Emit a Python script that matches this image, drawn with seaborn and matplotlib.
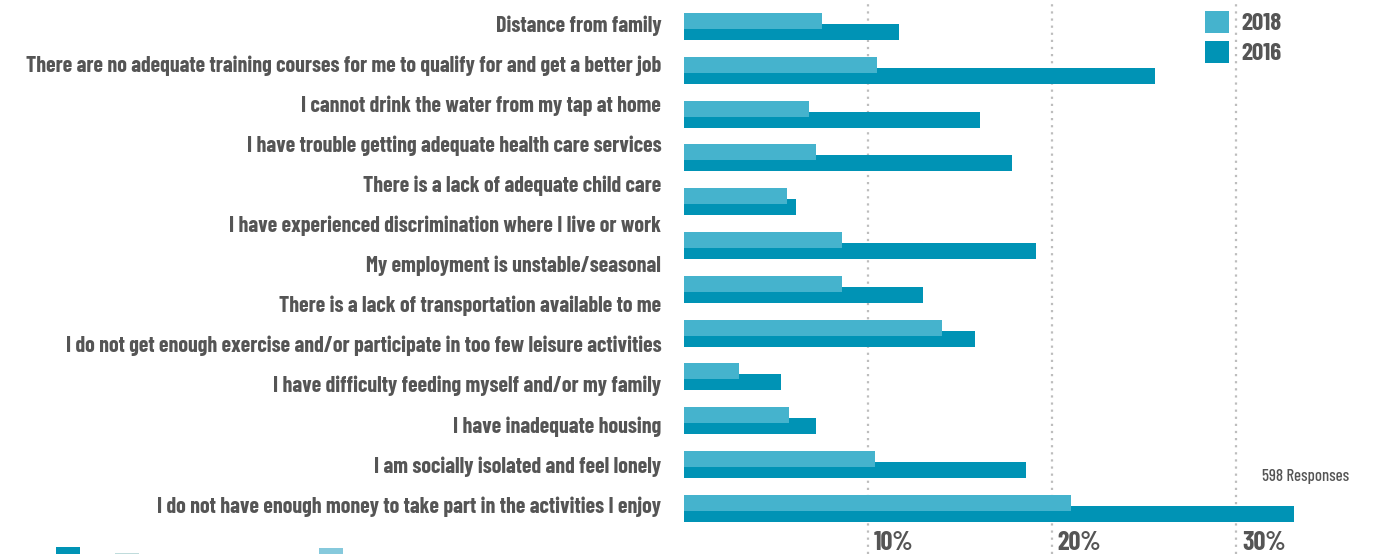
import numpy as np
import pandas as pd
import matplotlib
matplotlib.use("Agg")
import matplotlib.pyplot as plt
import matplotlib.transforms as mtransforms
from matplotlib.patches import Patch, Rectangle
import seaborn as sns

# Category labels listed down the left side
labels = [
    "Distance from family",
    "There are no adequate training courses for me to qualify for and get a better job",
    "I cannot drink the water from my tap at home",
    "I have trouble getting adequate health care services",
    "There is a lack of adequate child care",
    "I have experienced discrimination where I live or work",
    "My employment is unstable/seasonal",
    "There is a lack of transportation available to me",
    "I do not get enough exercise and/or participate in too few leisure activities",
    "I have difficulty feeding myself and/or my family",
    "I have inadequate housing",
    "I am socially isolated and feel lonely",
    "I do not have enough money to take part in the activities I enjoy",
]

# Share of respondents (%) per bar group
vals_2018 = [7.5, 10.5, 6.8, 7.2, 5.6, 8.6, 8.6, 14.0, 3.0, 5.7, 10.4, 21.0]
vals_2016 = [11.7, 25.6, 16.1, 17.8, 6.1, 19.1, 13.0, 15.8, 5.3, 7.2, 18.6, 33.1]

years = ["2018", "2016"]
x_ticks = [10, 20, 30]
note = "598 Responses"

C2018 = "#45b3cd"
C2016 = "#0093b5"
TXT = "#555555"
GRID = "#bdbdbd"
FAM = ["Barlow Condensed", "DejaVu Sans"]

sns.set_theme(style="white")
plt.rcParams["font.family"] = FAM

W, H = 1375, 554
fig = plt.figure(figsize=(W / 100, H / 100), dpi=100)
x0 = 683.5
ax = fig.add_axes([x0 / W, 0, 1 - x0 / W, 1])

rows = np.arange(len(vals_2016))
off = 0.126
bar_h = 0.365

df16 = pd.DataFrame({"pct": vals_2016, "pos": rows + off})
df18 = pd.DataFrame({"pct": vals_2018, "pos": rows - off})

sns.barplot(data=df16, x="pct", y="pos", orient="h", native_scale=True,
            width=bar_h, color=C2016, saturation=1, linewidth=0,
            errorbar=None, ax=ax)
sns.barplot(data=df18, x="pct", y="pos", orient="h", native_scale=True,
            width=bar_h, color=C2018, saturation=1, linewidth=0,
            errorbar=None, ax=ax)

px_per_unit = 18.43
ax.set_xlim(0, (W - x0) / px_per_unit)
row_px0, row_step = 26.5, 43.8
ax.set_ylim((H - row_px0) / row_step, -row_px0 / row_step)

for s in ax.spines.values():
    s.set_visible(False)
ax.set_xlabel("")
ax.set_ylabel("")

# dotted vertical gridlines
ax.set_xticks(x_ticks)
ax.xaxis.grid(True, color=GRID, linestyle=(0, (1, 2.2)), linewidth=1.6)
ax.yaxis.grid(False)
ax.set_axisbelow(True)
ax.tick_params(axis="x", labelbottom=False, length=0)

# category labels, evenly spread over the bar column
lab_px = np.linspace(23.5, 504.5, len(labels))
lab_pos = (lab_px - row_px0) / row_step
ax.set_yticks(lab_pos)
ax.set_yticklabels(labels, fontsize=15.8, fontweight="bold", color=TXT)
ax.tick_params(axis="y", length=0, pad=16)

# percentage labels at the foot of each gridline
blend = mtransforms.blended_transform_factory(ax.transData, ax.transAxes)
for t in x_ticks:
    ax.text(t + 0.3, 1 - 550 / H, f"{t}%", transform=blend, ha="left",
            va="baseline", fontsize=19, fontweight="bold", color=TXT)

ax.text((1262 - x0) / px_per_unit, 1 - 481 / H, note, transform=blend,
        ha="left", va="baseline", fontsize=12, fontweight=500, color=TXT)

handles = [Patch(facecolor=C2018, edgecolor="none", label=years[0]),
           Patch(facecolor=C2016, edgecolor="none", label=years[1])]
leg = ax.legend(handles=handles, loc="upper left",
                bbox_to_anchor=(1205 / W, 1 - 11 / H), bbox_transform=fig.transFigure,
                frameon=False, borderpad=0, borderaxespad=0,
                prop={"family": FAM, "weight": "bold", "size": 18},
                handlelength=0.96, handleheight=0.96, handletextpad=0.5, labelspacing=0.22)
for txt in leg.get_texts():
    txt.set_color(TXT)

# small colour swatches along the lower edge
for (xs, hs, c) in [(56, 7, C2016), (115, 1.5, "#c0dcdc"), (319, 6, "#86c9dc")]:
    fig.add_artist(Rectangle((xs / W, 0), 24 / W, hs / H,
                             transform=fig.transFigure, facecolor=c, edgecolor="none"))

fig.savefig("out.png", dpi=100)
